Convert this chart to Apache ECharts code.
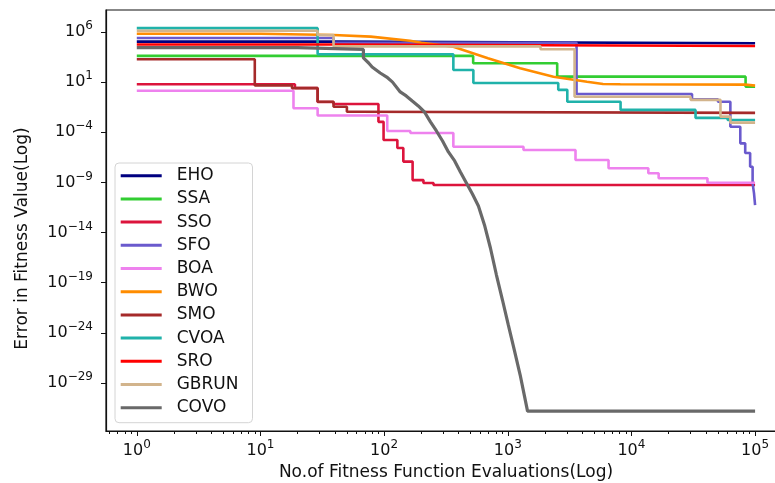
<!DOCTYPE html>
<html>
<head>
<meta charset="utf-8">
<script src="https://cdn.jsdelivr.net/npm/echarts@6/dist/echarts.min.js"></script>
<style>
html, body { margin: 0; padding: 0; background: #fff; }
#chart { width: 775px; height: 483px; }
</style>
</head>
<body>
<div id="chart"></div>
<script>
// exponents of the labelled ticks
const xTickExps = [0, 1, 2, 3, 4, 5];
const yTickExps = [6, 1, -4, -9, -14, -19, -24, -29];

// [evaluations, error] pairs
const EHO = [[1, 1.1e5], [39, 7.4e4], [1e5, 7.4e4]];
const SSA = [[1, 4.1e3], [525, 7.6e2], [2510, 35], [83800, 3.5], [1e5, 3.5]];
const SSO = [[1, 6.2], [19, 2.6], [29, 0.105], [39, 0.066], [90, 1.1e-3], [99, 1.7e-5],
  [128, 2.7e-6], [143, 1.2e-7], [170, 1.7e-9], [208, 8.9e-10], [251, 5.6e-10], [1e5, 5.6e-10]];
const SFO = [[1, 2.5e5], [39, 8.5e4], [3600, 0.66], [30900, 0.195], [50100, 0.112],
  [63100, 3.6e-4], [75900, 7.9e-6], [83200, 8.5e-7], [91200, 3.7e-8], [95500, 8.1e-10],
  [98000, 8.7e-11], [1e5, 5.6e-12]];
const BOA = [[1, 1.4], [18.5, 2.5e-2], [29, 4.7e-3], [106, 1.35e-4], [163, 8.5e-5],
  [363, 3.6e-6], [1340, 1.7e-6], [3530, 1.7e-7], [6530, 2.6e-8], [13700, 8.1e-9],
  [16600, 2.6e-9], [41200, 9.3e-10], [1e5, 9.3e-10]];
const BWO = [[1, 6.6e5], [10, 6.6e5], [39, 5.0e5], [78, 3.4e5], [162, 1.35e5], [200, 8.5e4],
  [363, 3.4e4], [692, 2.4e3], [1260, 240], [2340, 35], [4370, 11], [5890, 6.6],
  [8130, 6.2], [83200, 5.6], [1e5, 4.5]];
const SMO = [[1, 1.9e3], [9, 4.7], [18, 2.5], [29, 0.11], [39, 0.035], [50, 0.011],
  [60, 8.5e-3], [1e5, 8.5e-3]];
const CVOA = [[1, 2.4e6], [29, 6.0e3], [363, 1.6e2], [527, 8.1], [2560, 1.7], [3030, 0.11],
  [8170, 1.7e-2], [33000, 2.7e-3], [60000, 1.7e-3], [1e5, 1.7e-3]];
const SRO = [[1, 5.6e4], [39, 4.0e4], [1e5, 4.0e4]];
const GBRUN = [[1, 1.3e6], [29, 5.0e5], [39, 3.7e4], [1840, 1.9e4], [3470, 0.35],
  [30100, 0.17], [52500, 3.6e-3], [63100, 9.1e-4], [1e5, 9.1e-4]];
const COVO = [[1, 2.8e4], [20, 2.8e4], [20, 1.8e4], [68, 1.8e4], [68, 2.6e3], [75, 810], [80, 320],
  [93, 81], [105, 32], [117, 10], [135, 1.05], [151, 0.42], [169, 0.13], [189, 0.042],
  [212, 0.0105], [237, 1.1e-3], [265, 1.35e-4], [297, 1.35e-5], [331, 1.1e-6], [372, 1.4e-7],
  [414, 1.1e-8], [463, 8.9e-10], [518, 7.1e-11], [579, 4.5e-12], [648, 5.8e-14],
  [724, 2.9e-16], [810, 5.9e-19], [906, 1.9e-21], [1010, 6.2e-24], [1130, 1.9e-26],
  [1260, 6.3e-29], [1360, 6.3e-31], [1445, 1.6e-32], [1e5, 1.6e-32]];

const names = ['EHO', 'SSA', 'SSO', 'SFO', 'BOA', 'BWO', 'SMO', 'CVOA', 'SRO', 'GBRUN', 'COVO'];
const seriesData = [EHO, SSA, SSO, SFO, BOA, BWO, SMO, CVOA, SRO, GBRUN, COVO];
const colors = ['#000080', '#32cd32', '#dc143c', '#6a5acd', '#ee82ee', '#ff8c00',
  '#a52a2a', '#20b2aa', '#ff0000', '#d2b48c', '#696969'];
// BWO and COVO fall off smoothly, the rest are drawn as steps
const smoothNames = ['BWO', 'COVO'];

const font = 'DejaVu Sans';
const xMin = -0.249, xMax = 5.25;
const yMin = -33.78, yMax = 8.19;

// minor ticks of the log x axis (2..9 x 10^n)
const xMinorExps = [];
for (let n = -1; n <= 5; n++) {
  for (let k = 2; k <= 9; k++) {
    const v = Math.log10(k * Math.pow(10, n));
    if (v > xMin && v < xMax) xMinorExps.push(v);
  }
}

function powLabel(v) {
  const e = Math.round(v);
  return '{b|10}{s|' + (e < 0 ? '\u2212' + (-e) : e) + '}';
}
const powRich = {
  b: { fontSize: 16, lineHeight: 24, fontFamily: font, color: '#111' },
  s: { fontSize: 12, verticalAlign: 'top', fontFamily: font, color: '#111' }
};

const series = seriesData.map(function (d, i) {
  return {
    name: names[i],
    type: 'line',
    xAxisIndex: 0,
    step: smoothNames.indexOf(names[i]) >= 0 ? false : 'end',
    symbol: 'none',
    showSymbol: false,
    silent: true,
    lineStyle: { width: names[i] === 'COVO' ? 3.2 : 2.6, color: colors[i] },
    itemStyle: { color: colors[i] },
    data: d.map(function (p) { return [Math.log10(p[0]), Math.log10(p[1])]; })
  };
});

const chart = echarts.init(document.getElementById('chart'));
chart.setOption({
  animation: false,
  color: colors,
  grid: {
    left: 106, top: 10, width: 680, height: 421,
    outerBoundsMode: 'none',
    show: true, borderColor: '#111', borderWidth: 1.2, backgroundColor: 'transparent'
  },
  legend: {
    orient: 'vertical', left: 115, top: 163,
    data: names, icon: 'rect', itemWidth: 41, itemHeight: 3, itemGap: 5.2,
    padding: [3.7, 14, 6, 5.7],
    backgroundColor: 'rgba(255,255,255,0.85)', borderColor: '#d4d4d4', borderWidth: 1, borderRadius: 4,
    selectedMode: false,
    textStyle: { fontSize: 17, lineHeight: 18, fontFamily: font, color: '#111', padding: [0, 0, 0, 10] }
  },
  xAxis: [{
    type: 'value', min: xMin, max: xMax, position: 'bottom',
    axisLine: { show: true, onZero: false, lineStyle: { color: '#111', width: 1.2 } },
    axisTick: { show: true, customValues: xTickExps, length: 5, lineStyle: { color: '#111', width: 1 } },
    axisLabel: { customValues: xTickExps, formatter: powLabel, rich: powRich, margin: 8 },
    splitLine: { show: false },
    name: 'No.of Fitness Function Evaluations(Log)', nameLocation: 'middle', nameGap: 32,
    nameTextStyle: { fontSize: 17, fontFamily: font, color: '#111' }
  }, {
    type: 'value', min: xMin, max: xMax, position: 'bottom',
    axisLine: { show: false, onZero: false },
    axisTick: { show: true, customValues: xMinorExps, length: 3, lineStyle: { color: '#111', width: 1 } },
    axisLabel: { show: false },
    splitLine: { show: false }
  }],
  yAxis: {
    type: 'value', min: yMin, max: yMax,
    axisLine: { show: true, onZero: false, lineStyle: { color: '#111', width: 1.2 } },
    axisTick: { show: true, customValues: yTickExps, length: 5, lineStyle: { color: '#111', width: 1 } },
    axisLabel: { customValues: yTickExps, formatter: powLabel, rich: powRich, margin: 13 },
    splitLine: { show: false },
    name: 'Error in Fitness Value(Log)', nameLocation: 'middle', nameGap: 75,
    nameTextStyle: { fontSize: 17, fontFamily: font, color: '#111', padding: [0, 36, 0, 0] }
  },
  series: series
});
</script>
</body>
</html>
